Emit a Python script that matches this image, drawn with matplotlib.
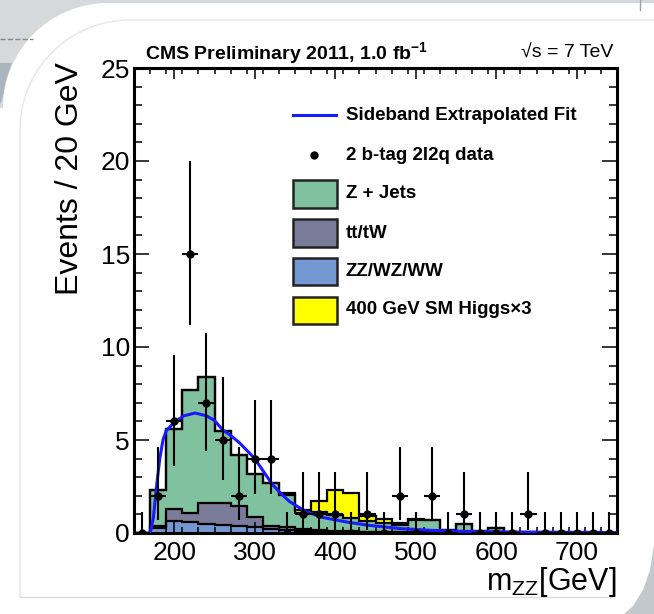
import numpy as np
import matplotlib
matplotlib.use("Agg")
import matplotlib.pyplot as plt
from matplotlib.patches import Polygon, Rectangle
from matplotlib.lines import Line2D

plt.rcParams['font.family'] = ['Liberation Sans', 'DejaVu Sans']
plt.rcParams['mathtext.fontset'] = 'custom'
plt.rcParams['mathtext.rm'] = 'Liberation Sans'
plt.rcParams['mathtext.it'] = 'Liberation Sans:italic'
plt.rcParams['mathtext.bf'] = 'Liberation Sans:bold'

# ---------------- data ----------------
bin_start = 150
bin_width = 20
n_bins = 30

data_counts = [0, 2, 6, 15, 7, 5, 2, 4, 4, 0, 1, 1, 1, 0, 1, 0, 2, 0, 2, 0,
               1, 0, 0, 0, 1, 0, 0, 0, 0, 0]
err_low_by_count = {0: 0.0, 1: 0.83, 2: 1.29, 4: 1.91, 5: 2.16, 6: 2.38, 7: 2.58, 15: 3.82}
err_high_by_count = {0: 1.15, 1: 2.30, 2: 2.64, 4: 3.16, 5: 3.38, 6: 3.58, 7: 3.77, 15: 5.0}

zz_wz_ww = [0.00, 0.25, 0.65, 0.60, 0.48, 0.42, 0.36, 0.30, 0.22, 0.17, 0.12, 0.10, 0.08, 0.07, 0.06,
            0.05, 0.04, 0.04, 0.03, 0.03, 0.02, 0.02, 0.02, 0.01, 0.01, 0.01, 0.01, 0.01, 0.00, 0.00]
tt_tw = [0.00, 0.11, 0.65, 0.50, 1.14, 1.20, 1.09, 0.55, 0.18, 0.15, 0.08, 0.05, 0.04, 0.03, 0.02,
         0.02, 0.02, 0.01, 0.02, 0.01, 0.02, 0.01, 0.01, 0.01, 0.01, 0.01, 0.00, 0.00, 0.01, 0.00]
z_jets = [0.00, 1.94, 4.30, 6.60, 6.78, 3.88, 2.75, 2.30, 2.30, 1.73, 0.90, 0.97, 0.83, 0.70, 0.57,
          0.48, 0.39, 0.67, 0.65, 0.11, 0.46, 0.07, 0.22, 0.03, 0.03, 0.02, 0.02, 0.02, 0.07, 0.02]
higgs_x3 = [0.00, 0.00, 0.00, 0.00, 0.00, 0.00, 0.00, 0.00, 0.00, 0.10, 0.14, 0.60, 1.35, 1.35, 0.28,
            0.20, 0.10, 0.02, 0.02, 0.01, 0.00, 0.00, 0.00, 0.00, 0.00, 0.00, 0.00, 0.00, 0.00, 0.00]

fit_mass = [170, 174, 178, 182, 186, 190, 200, 212, 226, 240, 250, 260, 270, 281, 290, 300,
            311, 322, 333, 343, 354, 364, 384, 413, 440, 480, 520, 560, 620, 680, 750]
fit_value = [0.0, 0.8, 2.5, 4.0, 5.0, 5.5, 5.95, 6.3, 6.45, 6.3, 6.05, 5.55, 5.25, 4.85, 4.45, 4.0,
             3.3, 2.6, 2.1, 1.7, 1.4, 1.15, 0.84, 0.6, 0.42, 0.24, 0.14, 0.09, 0.05, 0.03, 0.02]

x_ticks = [200, 300, 400, 500, 600, 700]
y_ticks = [0, 5, 10, 15, 20, 25]

labels = ["Sideband Extrapolated Fit", "2 b-tag 2l2q data", "Z + Jets", "tt/tW",
          "ZZ/WZ/WW", "400 GeV SM Higgs\u00d73"]

# ---------------- styles ----------------
c_zj = '#80c1a0'
c_tt = '#7b7b9a'
c_zz = '#7598d2'
c_h = '#ffff00'
c_fit = '#1a1aff'

W, H = 654, 614
fig = plt.figure(figsize=(W / 100, H / 100), dpi=100)
fig.patch.set_facecolor('white')

def P(x, y):
    # pixel coords from top-left -> figure pixel coords
    return (x, H - y)

# slide decoration
gray = '#d5d9dc'
cx, cy, r = 108, 108, 105
theta = np.linspace(np.pi, 1.5 * np.pi, 60)
arc = [P(cx + r * np.cos(t), cy + r * np.sin(t)) for t in theta]
pts = [P(0, 0), P(0, cy)] + arc + [P(W, 3), P(W, 0)]
fig.patches.append(Polygon(pts, closed=True, transform=None, facecolor=gray, edgecolor='none', zorder=-10))
band = [P(0, 63), P(12, 63), P(6, 80), P(2, 100), P(0, 104)]
fig.patches.append(Polygon(band, closed=True, transform=None, facecolor='#aab5bd', edgecolor='none', zorder=-9))
br = [P(654, 545), P(650, 570), P(643, 590), P(633, 606), P(624, 614), P(654, 614)]
fig.patches.append(Polygon(br, closed=True, transform=None, facecolor='#c3c8cc', edgecolor='none', zorder=-10))
fig.lines.append(Line2D([0, 33], [H - 39, H - 39], transform=None, color='#7f8890', lw=1, ls='--'))
# inner faint border
cx2, cy2, r2 = 130, 130, 110
arc2 = [P(cx2 + r2 * np.cos(t), cy2 + r2 * np.sin(t)) for t in np.linspace(np.pi, 1.5 * np.pi, 50)]
xs = [P(20, 597)[0]] + [p[0] for p in arc2] + [W]
ys = [P(20, 597)[1]] + [p[1] for p in arc2] + [H - 20]
fig.lines.append(Line2D(xs, ys, transform=None, color='#e6e6e6', lw=1))
fig.lines.append(Line2D([20, 612], [H - 597, H - 597], transform=None, color='#dedede', lw=1))
fig.lines.append(Line2D([640, 640], [H, H - 10], transform=None, color='#9aa0a6', lw=1))

ax = fig.add_axes([134 / W, 1 - 533 / H, (617 - 134) / W, (533 - 68) / H])
ax.set_facecolor('white')

edges = bin_start + bin_width * np.arange(n_bins + 1)
centers = edges[:-1] + bin_width / 2

zz = np.array(zz_wz_ww)
s_tt = zz + np.array(tt_tw)
s_zj = s_tt + np.array(z_jets)
s_h = s_zj + np.array(higgs_x3)

for vals, col in [(s_h, c_h), (s_zj, c_zj), (s_tt, c_tt), (zz, c_zz)]:
    ax.stairs(vals, edges, fill=True, facecolor=col, edgecolor='none', zorder=1)
    ax.stairs(vals, edges, fill=False, color='black', lw=1.6, zorder=1.5)

ax.plot(fit_mass, fit_value, color=c_fit, lw=2.2, zorder=3)

counts = np.array(data_counts)
elo = np.array([err_low_by_count[c] for c in data_counts])
ehi = np.array([err_high_by_count[c] for c in data_counts])
ax.errorbar(centers, counts, yerr=[elo, ehi], xerr=bin_width / 2, fmt='o', color='black',
            ms=5, elinewidth=1.5, capsize=0, zorder=4, clip_on=True)

ax.set_xlim(edges[0], edges[-1])
ax.set_ylim(0, 25)
ax.set_xticks(x_ticks)
ax.set_yticks(y_ticks)
ax.set_xticks(np.arange(170, 751, 20), minor=True)
ax.set_yticks(np.arange(0, 26, 1), minor=True)
ax.tick_params(which='both', direction='in', top=True, right=True, width=1.1)
ax.tick_params(axis='x', which='major', length=8, labelsize=19, pad=6)
ax.tick_params(axis='x', which='minor', length=4)
ax.tick_params(axis='y', which='major', length=11, labelsize=19, pad=3)
ax.tick_params(axis='y', which='minor', length=5.5)
for sp in ax.spines.values():
    sp.set_linewidth(2.2)

fig.text(70 / W, 1 - 62 / H, "Events / 20 GeV", rotation=90, ha='center', va='top', fontsize=23)
fig.text(617 / W, 1 - 582 / H, r"m$_{\mathrm{ZZ}}$[GeV]", ha='right', va='center', fontsize=22)
fig.text(145 / W, 1 - 53 / H, r"CMS Preliminary 2011, 1.0 fb$^{\mathbf{-1}}$", ha='left', va='center',
         fontsize=14, fontweight='bold')
fig.text(613 / W, 1 - 53 / H, "\u221as = 7 TeV", ha='right', va='center', fontsize=14)

# legend (axes-fraction coordinates)
def fx(px):
    return (px - 134) / 483

def fy(py):
    return (533 - py) / 465

tx = fx(346)
ax.plot([fx(293), fx(336)], [fy(115), fy(115)], transform=ax.transAxes, color=c_fit, lw=2.2, clip_on=False)
ax.text(tx, fy(115), labels[0], transform=ax.transAxes, ha='left', va='center', fontsize=13.5, fontweight='bold')
ax.plot([fx(314)], [fy(155)], 'o', color='black', ms=5, transform=ax.transAxes)
ax.text(tx, fy(155), labels[1], transform=ax.transAxes, ha='left', va='center', fontsize=13.5, fontweight='bold')
for lab, col, py in [(labels[2], c_zj, 194), (labels[3], c_tt, 233), (labels[4], c_zz, 271), (labels[5], c_h, 310)]:
    ax.add_patch(Rectangle((fx(293), fy(py + 13.5)), fx(337) - fx(293), fy(py - 13.5) - fy(py + 13.5),
                           transform=ax.transAxes, facecolor=col, edgecolor='#222222', lw=1.8, zorder=5))
    ax.text(tx, fy(py), lab, transform=ax.transAxes, ha='left', va='center', fontsize=13.5,
            fontweight='bold', zorder=5)

fig.savefig("out.png", dpi=100, facecolor=fig.get_facecolor())
